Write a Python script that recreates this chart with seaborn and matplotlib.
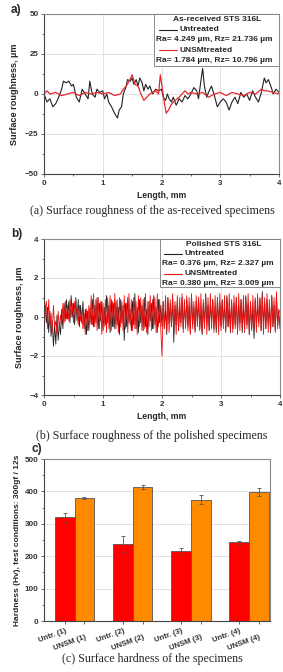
import numpy as np
import pandas as pd
import matplotlib
matplotlib.use("Agg")
import matplotlib.pyplot as plt
import seaborn as sns
from matplotlib.lines import Line2D
from matplotlib.patches import Rectangle

# ---------------- data ----------------
# panel a: as-received profile (length mm, roughness um)
a_untr_x = [0.00, 0.05, 0.10, 0.15, 0.20, 0.25, 0.30, 0.33, 0.38, 0.42, 0.47, 0.50, 0.55, 0.60,
            0.65, 0.70, 0.75, 0.78, 0.82, 0.87, 0.90, 0.95, 1.00, 1.03, 1.07, 1.10, 1.15, 1.20,
            1.25, 1.28, 1.32, 1.35, 1.40, 1.42, 1.47, 1.50, 1.53, 1.57, 1.60, 1.63, 1.67, 1.70,
            1.73, 1.77, 1.80, 1.85, 1.90, 1.95, 2.00, 2.03, 2.07, 2.10, 2.13, 2.17, 2.20, 2.25,
            2.30, 2.35, 2.40, 2.45, 2.50, 2.55, 2.60, 2.63, 2.67, 2.70, 2.73, 2.77, 2.80, 2.85,
            2.90, 2.95, 3.00, 3.05, 3.10, 3.15, 3.20, 3.25, 3.30, 3.35, 3.40, 3.45, 3.50, 3.55,
            3.60, 3.65, 3.70, 3.75, 3.78, 3.82, 3.87, 3.90, 3.95, 4.00]
a_untr_y = [0, -5, -3, -8, -6, -2, 3, 8, 7, 8, 5, 6, -2, -5,
            3, 0, -3, 8, 0, -2, 3, 1, 2, -3, 0, -5, -8, -12,
            -15, -10, -8, 0, 5, 9, 8, 10, 6, 9, 5, 10, 7, 2,
            6, 3, 5, 0, 3, 2, 3, -2, -4, 0, -3, -5, -2, -7,
            -3, -5, -1, -3, 0, 4, 2, -3, 8, 16, 5, -2, 1, 5,
            -1, -8, -5, -3, -5, -10, -5, -2, -6, 1, -2, 0, -4, 2,
            -2, -5, 1, 10, 7, 9, 4, 0, 3, 1]
a_unsm_x = [0.00, 0.05, 0.10, 0.20, 0.30, 0.40, 0.50, 0.60, 0.70, 0.80, 0.90, 1.00, 1.10,
            1.20, 1.30, 1.35, 1.40, 1.45, 1.50, 1.55, 1.60, 1.65, 1.70, 1.75, 1.80, 1.85,
            1.90, 1.95, 1.98, 2.02, 2.05, 2.08, 2.12, 2.16, 2.20, 2.30, 2.40, 2.45, 2.50,
            2.60, 2.70, 2.80, 2.90, 3.00, 3.10, 3.20, 3.30, 3.40, 3.50, 3.60, 3.70, 3.75,
            3.80, 3.90, 4.00]
a_unsm_y = [0, 2, 0, 1, -1, 0, 1, -1, 1, 0, 1, 0, 1,
            -1, 0, 3, 5, 8, 12, 6, 5, 0, -4, -2, 0, 1,
            2, 0, 12, 2, -6, -12, -10, -7, -5, -2, 2, 0, 1,
            0, 1, -2, 0, 1, -1, 1, 0, -1, 1, 0, 3, 2,
            2, 1, 0]

# panel b: polished profile, length step 0.02 mm (0 .. 4)
b_len = [round(0.02 * i, 2) for i in range(201)]
b_untr = [0.2, 0.6, -0.3, 0.5, -0.8, 0.3, -1.0, -0.2, -1.5, -0.4, -1.4, 0.1, -1.2, -0.3, -0.9, 0.4, -0.6, 0.7, -0.2, 0.9, -0.1,
          0.8, -0.3, 1.1, 0.0, 0.7, -0.4, 1.0, -0.2, 0.9, -0.5, 0.6, -0.3, 0.8, -0.6, 0.4, -0.9, 0.3, -0.7, 0.5, -0.4,
          0.9, -0.5, 0.6, -0.3, 1.0, -0.6, 0.7, -0.2, 0.8, -0.7, 0.5, -0.4, 1.1, -0.3, 0.6, -0.8, 0.9, -0.5, 0.7, -0.6,
          0.8, -0.4, 0.5, -0.9, 0.9, -0.3, 0.6, -1.2, 0.7, -0.5, 1.0, -0.3, 0.4, -0.7, 0.8, -0.4, 1.2, -0.6, 0.5, -0.8,
          0.9, -0.3, 0.6, -0.7, 1.0, -0.5, 0.4, -0.9, 0.8, -0.2, 0.7, -0.6, 1.1, -0.4, 0.5, -0.8, 0.9, -0.3, 0.6, -0.5,
          0.8, -0.6, 0.4, -0.9, 1.0, -0.3, 0.7, -0.5, 0.9, -1.3, 0.6, -0.4, 0.8, -0.7, 0.5, -0.3, 1.0, -0.6, 0.7, -0.4,
          0.9, -0.5, 0.6, -0.8, 1.1, -0.4, 0.5, -0.7, 0.8, -0.3, 1.0, -0.6, 0.4, -0.9, 0.7, -0.5, 1.2, -0.4, 0.6, -0.7,
          0.8, -0.3, 0.9, -0.6, 0.5, -0.8, 1.0, -0.4, 0.7, -0.5, 0.9, -0.3, 0.6, -0.7, 1.1, -0.5, 0.4, -0.8, 0.8, -0.6,
          0.7, -0.4, 1.0, -0.7, 0.6, -0.3, 0.9, -0.8, 0.5, -0.5, 1.1, -0.4, 0.7, -0.9, 0.8, -0.6, 0.4, -1.1, 0.9, -0.5,
          0.6, -0.3, 1.0, -0.7, 1.3, -0.4, 0.7, -0.6, 0.9, -0.3, 0.5, -0.8, 1.1, -0.5, 0.6, -0.7, 1.0, -0.4, 0.3, -0.6]
b_unsm = [-0.9, 0.4, 0.8, -0.6, 0.9, -0.4, 0.2, -0.8, 0.6, -0.5, -0.2, -0.9, 0.3, -0.6, 0.1, -0.4, 0.7, -0.3, 0.8, -0.1, 0.6,
          -0.2, 0.9, 0.0, 0.7, -0.3, 0.8, 0.1, 0.5, -0.4, 0.6, -0.2, 0.3, -0.6, 0.2, -0.9, 0.4, -0.7, 0.6, -0.3, 1.1,
          -0.4, 1.2, -0.5, 0.9, -0.7, 1.0, -0.6, 0.8, -0.9, 0.7, -0.5, 0.9, -0.8, 1.0, -0.6, 1.1, -0.7, 0.8, -0.5, 1.2,
          -0.6, 0.9, -0.8, 1.0, -0.5, 0.8, -0.7, 1.1, -0.6, 0.7, -0.8, 1.2, -0.4, 0.9, -0.7, 1.0, -0.6, 0.8, -0.9, 1.1,
          -0.5, 1.0, -0.7, 0.9, -0.6, 1.2, -0.8, 0.8, -0.5, 1.1, -0.7, 0.9, -0.6, 1.0, -0.8, 1.2, -0.5, 0.9, -0.7, -2.0,
          0.8, -0.6, 1.1, -0.7, 1.0, -0.8, 0.9, -0.5, 1.2, -0.6, 0.8, -0.9, 1.1, -0.7, 1.0, -0.5, 1.2, -0.8, 0.9, -0.6,
          1.1, -0.7, 1.0, -0.9, 1.2, -0.6, 0.8, -0.8, 1.1, -0.5, 1.0, -0.7, 1.2, -0.8, 0.9, -0.6, 1.1, -0.9, 1.0, -0.7,
          1.2, -0.6, 0.9, -0.8, 1.1, -0.5, 1.0, -0.9, 1.2, -0.7, 0.8, -0.6, 1.1, -0.8, 1.0, -0.5, 1.2, -0.7, 0.9, -0.8,
          1.1, -0.6, 1.0, -0.9, 1.2, -0.7, 0.9, -0.5, 1.1, -0.8, 1.0, -0.6, 1.2, -0.9, 0.8, -0.7, 1.1, -0.6, 1.0, -0.8,
          1.2, -0.5, 0.9, -0.7, 1.1, -0.9, 1.0, -0.6, 1.2, -0.8, 0.9, -0.7, 1.1, -0.5, 1.0, -0.8, 1.3, -0.6, 0.4, 0.2]

# panel c: hardness
c_groups = ["1", "2", "3", "4"]
c_untr = [320, 237, 216, 243]
c_untr_err = [13, 25, 10, 5]
c_unsm = [381, 413, 374, 398]
c_unsm_err = [3, 7, 14, 13]
c_ticklabels = ["Untr. (1)", "UNSM (1)", "Untr. (2)", "UNSM (2)",
                "Untr. (3)", "UNSM (3)", "Untr. (4)", "UNSM (4)"]

# ---------------- style ----------------
sns.set_theme(style="whitegrid")
plt.rcParams.update({
    "font.family": ["Liberation Sans", "DejaVu Sans"],
    "font.weight": "bold",
    "axes.edgecolor": "#8a8a8a",
    "axes.linewidth": 0.8,
    "grid.color": "#e2e2e2",
    "grid.linewidth": 0.7,
    "xtick.bottom": True,
    "ytick.left": True,
    "xtick.direction": "out",
    "ytick.direction": "out",
    "xtick.major.size": 2.5,
    "ytick.major.size": 2.5,
    "xtick.minor.size": 1.5,
    "ytick.minor.size": 1.5,
    "xtick.color": "#333333",
    "ytick.color": "#333333",
    "xtick.labelsize": 5.8,
    "ytick.labelsize": 5.8,
    "xtick.major.pad": 1.5,
    "ytick.major.pad": 1.5,
})

BLACK = "#222222"
RED = "#e8262b"
LEG_FS = 6.0
fig = plt.figure(figsize=(2.83, 6.72), dpi=100)
W, H = 283.0, 672.0


def ax_px(l, t, r, b):
    return fig.add_axes([l / W, 1 - b / H, (r - l) / W, (b - t) / H])


def style_profile(ax, ylim, yticks):
    ax.set_xlim(0, 4)
    ax.set_ylim(*ylim)
    ax.set_xticks([0, 1, 2, 3, 4])
    ax.set_yticks(yticks)
    ax.set_xticks(np.arange(0.5, 4, 1.0), minor=True)
    ax.set_yticks([(yticks[i] + yticks[i + 1]) / 2 for i in range(len(yticks) - 1)], minor=True)
    ax.tick_params(which="both", top=False, right=False, color="#555555", width=0.6)
    ax.grid(True, which="major")
    ax.grid(False, which="minor")
    ax.spines["left"].set_color("#444444")
    ax.spines["bottom"].set_color("#444444")
    ax.set_xlabel("Length, mm", fontsize=6.2, fontweight="bold", labelpad=3)
    ax.set_ylabel("Surface roughness, µm", fontsize=6.6, fontweight="bold", labelpad=4)
    for t in ax.get_xticklabels() + ax.get_yticklabels():
        t.set_fontweight("bold")


def legend_box(ax, x0, y0, title, title_pos, rows):
    ax.add_patch(Rectangle((x0, y0), 1 - x0, 1 - y0, transform=ax.transAxes,
                           facecolor="white", edgecolor="#777777", lw=0.6, zorder=5))
    tx, ty = title_pos
    ax.text(tx, ty, title, transform=ax.transAxes, fontsize=LEG_FS, fontweight="bold",
            ha="center", va="center", zorder=6)
    for kind, y, txt, col, lx0, lx1 in rows:
        if kind == "line":
            ax.add_line(Line2D([lx0, lx1], [y, y], transform=ax.transAxes, color=col, lw=0.8, zorder=6))
            ax.text(lx1 + 0.01, y, txt, transform=ax.transAxes, fontsize=LEG_FS, fontweight="bold",
                    ha="left", va="center", zorder=6)
        else:
            ax.text(lx0, y, txt, transform=ax.transAxes, fontsize=LEG_FS, fontweight="bold",
                    ha="left", va="center", zorder=6)


# ---------------- panel a ----------------
axa = ax_px(44, 14, 279, 174)
sns.lineplot(x=a_untr_x, y=a_untr_y, ax=axa, color=BLACK, lw=0.8, estimator=None, sort=False)
sns.lineplot(x=a_unsm_x, y=a_unsm_y, ax=axa, color=RED, lw=0.9, estimator=None, sort=False)
style_profile(axa, (-50, 50), [-50, -25, 0, 25, 50])
legend_box(axa, 0.468, 0.675, "As-received STS 316L", (0.735, 0.963), [
    ("line", 0.902, "Untreated", BLACK, 0.49, 0.565),
    ("text", 0.842, "Ra= 4.249 µm, Rz= 21.736 µm", None, 0.475, None),
    ("line", 0.772, "UNSMtreated", RED, 0.49, 0.565),
    ("text", 0.710, "Ra= 1.784 µm, Rz= 10.796 µm", None, 0.475, None),
])

# ---------------- panel b ----------------
axb = ax_px(44, 239, 280, 395)
sns.lineplot(x=b_len, y=b_untr, ax=axb, color=BLACK, lw=0.6, estimator=None, sort=False)
sns.lineplot(x=b_len, y=b_unsm, ax=axb, color="#f01010", lw=0.6, estimator=None, sort=False)
style_profile(axb, (-4, 4), [-4, -2, 0, 2, 4])
legend_box(axb, 0.49, 0.69, "Polished STS 316L", (0.76, 0.963), [
    ("line", 0.905, "Untreated", BLACK, 0.51, 0.585),
    ("text", 0.840, "Ra= 0.376 µm, Rz= 2.327 µm", None, 0.498, None),
    ("line", 0.778, "UNSMtreated", "#f01010", 0.51, 0.585),
    ("text", 0.712, "Ra= 0.380 µm, Rz= 3.009 µm", None, 0.498, None),
])

# ---------------- panel c ----------------
axc = ax_px(44, 459, 270, 621)
df = pd.DataFrame({
    "group": c_groups * 2,
    "hardness": c_untr + c_unsm,
    "treatment": ["Untr."] * 4 + ["UNSM"] * 4,
})
sns.barplot(data=df, x="group", y="hardness", hue="treatment", ax=axc,
            palette={"Untr.": "#ff0000", "UNSM": "#ff8a00"}, width=0.675,
            errorbar=None, edgecolor="#555555", linewidth=0.6, legend=False, saturation=1)
errs = c_untr_err + c_unsm_err
bars = [p for p in axc.patches if p.get_height() > 0][:8]
centers = []
for p, e in zip(bars, errs):
    cx = p.get_x() + p.get_width() / 2
    centers.append(cx)
    axc.errorbar(cx, p.get_height(), yerr=e, color="#555555", lw=0.6, capsize=1.5, capthick=0.6)
axc.set_xlim(-0.527, 3.36)
axc.set_ylim(0, 500)
axc.set_yticks([0, 100, 200, 300, 400, 500])
axc.set_yticks([50, 150, 250, 350, 450], minor=True)
axc.tick_params(axis="y", which="both", left=True, right=False, color="#555555", width=0.6)
axc.tick_params(axis="y", which="minor", length=1.5)
axc.grid(True, axis="y", which="major")
axc.grid(False, axis="x")
xs = sorted(centers)
axc.set_xticks(xs)
axc.set_xticklabels(c_ticklabels, rotation=20, ha="right", rotation_mode="anchor", fontsize=5.6,
                    fontweight="bold")
for i, t in enumerate(axc.get_xticklabels()):
    t.set_y(-0.0 if i % 2 == 0 else -0.04)
axc.tick_params(axis="x", which="both", length=2.5, color="#555555", width=0.6, pad=2)
axc.spines["left"].set_color("#444444")
axc.spines["bottom"].set_color("#444444")
axc.set_xlabel("")
axc.set_ylabel("Hardness (Hv), test conditions: 300gf / 12s", fontsize=6.0, fontweight="bold", labelpad=3)
for t in axc.get_yticklabels():
    t.set_fontweight("bold")

# ---------------- panel letters & captions ----------------
for lbl, x, y in [("a)", 11, 10), ("b)", 11, 234), ("c)", 31, 449)]:
    fig.text(x / W, 1 - y / H, lbl, fontsize=8.5, fontweight="bold", ha="left", va="center")
caps = [("(a) Surface roughness of the as-received specimens", 211),
        ("(b) Surface roughness of the polished specimens", 436),
        ("(c) Surface hardness of the specimens", 659)]
for txt, y in caps:
    fig.text(152 / W, 1 - y / H, txt, fontsize=8.6, family=["Liberation Serif", "DejaVu Serif"],
             fontweight="normal", ha="center", va="center")

fig.savefig("out.png", dpi=100, facecolor="white")
